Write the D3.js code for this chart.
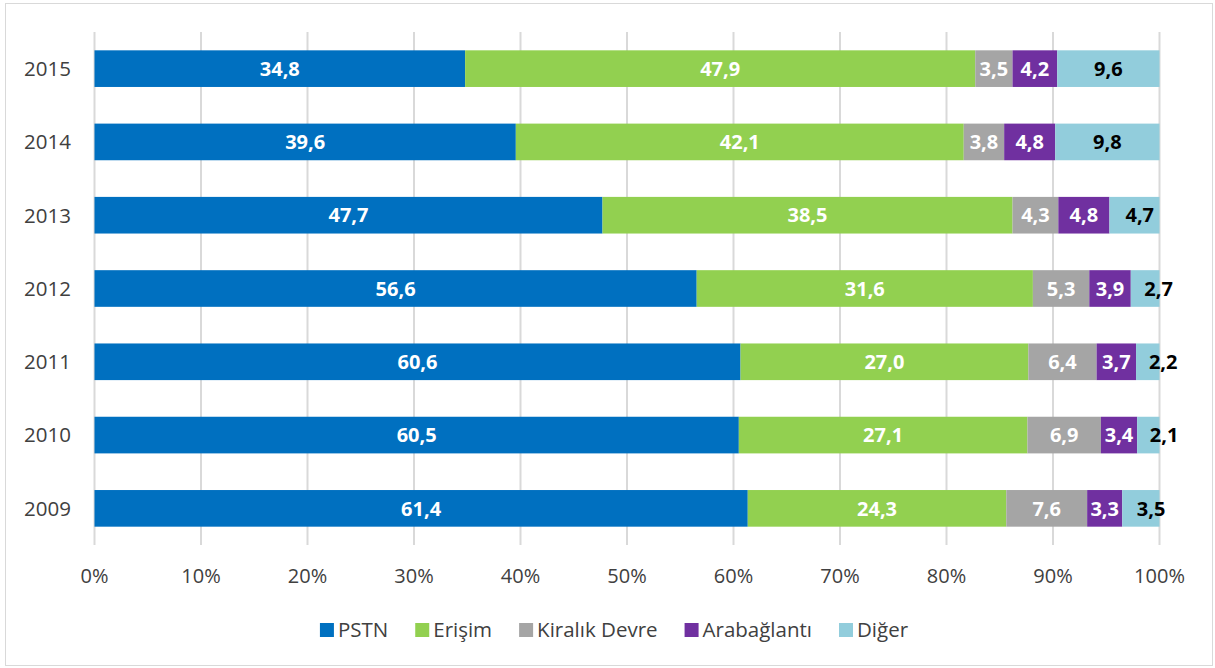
<!DOCTYPE html>
<html>
<head>
<meta charset="utf-8">
<script src="https://cdn.jsdelivr.net/npm/d3@7"></script>
<style>
  body { margin: 0; background: #fff; }
  svg { display: block; font-family: "Open Sans", sans-serif; }
</style>
</head>
<body>
<svg id="chart" width="1215" height="668"></svg>
<script>
const years = ["2015", "2014", "2013", "2012", "2011", "2010", "2009"];
const seriesNames = ["PSTN", "Erişim", "Kiralık Devre", "Arabağlantı", "Diğer"];
const seriesColors = ["#0070C0", "#92D050", "#A5A5A5", "#7030A0", "#92CDDC"];
const labelColors = ["#ffffff", "#ffffff", "#ffffff", "#ffffff", "#000000"];
const pstn        = [34.8, 39.6, 47.7, 56.6, 60.6, 60.5, 61.4];
const erisim      = [47.9, 42.1, 38.5, 31.6, 27.0, 27.1, 24.3];
const kiralik     = [3.5, 3.8, 4.3, 5.3, 6.4, 6.9, 7.6];
const arabaglanti = [4.2, 4.8, 4.8, 3.9, 3.7, 3.4, 3.3];
const diger       = [9.6, 9.8, 4.7, 2.7, 2.2, 2.1, 3.5];
const xTicks = [0, 0.1, 0.2, 0.3, 0.4, 0.5, 0.6, 0.7, 0.8, 0.9, 1.0];

const seriesValues = [pstn, erisim, kiralik, arabaglanti, diger];
const rows = years.map((y, i) => {
  const r = { year: y };
  seriesNames.forEach((s, k) => r[s] = seriesValues[k][i]);
  return r;
});

const svg = d3.select("#chart");
svg.append("rect").attr("x", 5.5).attr("y", 3.5).attr("width", 1207).attr("height", 662)
  .attr("fill", "#fff").attr("stroke", "#d9d9d9").attr("stroke-width", 1);

const x = d3.scaleLinear().domain([0, 1]).range([94.5, 1159.5]);
const y = d3.scaleBand().domain(years).range([32, 545]).paddingInner(0.5).paddingOuter(0.25);

svg.append("g").selectAll("line").data(xTicks).join("line")
  .attr("x1", d => x(d)).attr("x2", d => x(d))
  .attr("y1", 32).attr("y2", 545)
  .attr("stroke", "#d9d9d9").attr("stroke-width", 2);

svg.append("g").selectAll("text").data(xTicks).join("text")
  .attr("x", d => x(d)).attr("y", 583)
  .attr("text-anchor", "middle")
  .attr("font-size", 20).attr("fill", "#404040")
  .text(d => d3.format(".0%")(d));

svg.append("g").selectAll("text").data(years).join("text")
  .attr("x", 71).attr("y", d => y(d) + y.bandwidth() / 2)
  .attr("dy", "0.36em")
  .attr("text-anchor", "end")
  .attr("font-size", 20.5).attr("fill", "#404040")
  .text(d => d);

const stack = d3.stack().keys(seriesNames).offset(d3.stackOffsetExpand);
const stacked = stack(rows);

const layers = svg.append("g").selectAll("g").data(stacked).join("g")
  .attr("fill", (d, i) => seriesColors[i]);

layers.selectAll("rect").data(d => d).join("rect")
  .attr("x", d => x(d[0]))
  .attr("width", d => x(d[1]) - x(d[0]))
  .attr("y", d => y(d.data.year))
  .attr("height", y.bandwidth());

const lbl = svg.append("g");
stacked.forEach((layer, k) => {
  layer.forEach(d => {
    const w = x(d[1]) - x(d[0]);
    let cx = (x(d[0]) + x(d[1])) / 2;
    if (k === seriesNames.length - 1) cx += Math.max(0, 64 - w) * 0.38;
    lbl.append("text")
      .attr("x", cx)
      .attr("y", y(d.data.year) + y.bandwidth() / 2)
      .attr("dy", "0.36em")
      .attr("text-anchor", "middle")
      .attr("font-size", 20).attr("font-weight", "bold")
      .attr("fill", labelColors[k])
      .text(d3.format(".1f")(d.data[layer.key]).replace(".", ","));
  });
});

const leg = svg.append("g");
const items = [];
seriesNames.forEach((s, i) => {
  const g = leg.append("g");
  g.append("rect").attr("x", 0).attr("y", -7).attr("width", 14).attr("height", 14).attr("fill", seriesColors[i]);
  const t = g.append("text").attr("x", 18).attr("y", 0).attr("dy", "0.36em")
    .attr("font-size", 20.5).attr("fill", "#404040").text(s);
  items.push({ g, w: 18 + t.node().getComputedTextLength() });
});
const gap = 27;
const total = d3.sum(items, d => d.w) + gap * (items.length - 1);
let cx = 614 - total / 2;
items.forEach(it => {
  it.g.attr("transform", `translate(${cx},630)`);
  cx += it.w + gap;
});
</script>
</body>
</html>
